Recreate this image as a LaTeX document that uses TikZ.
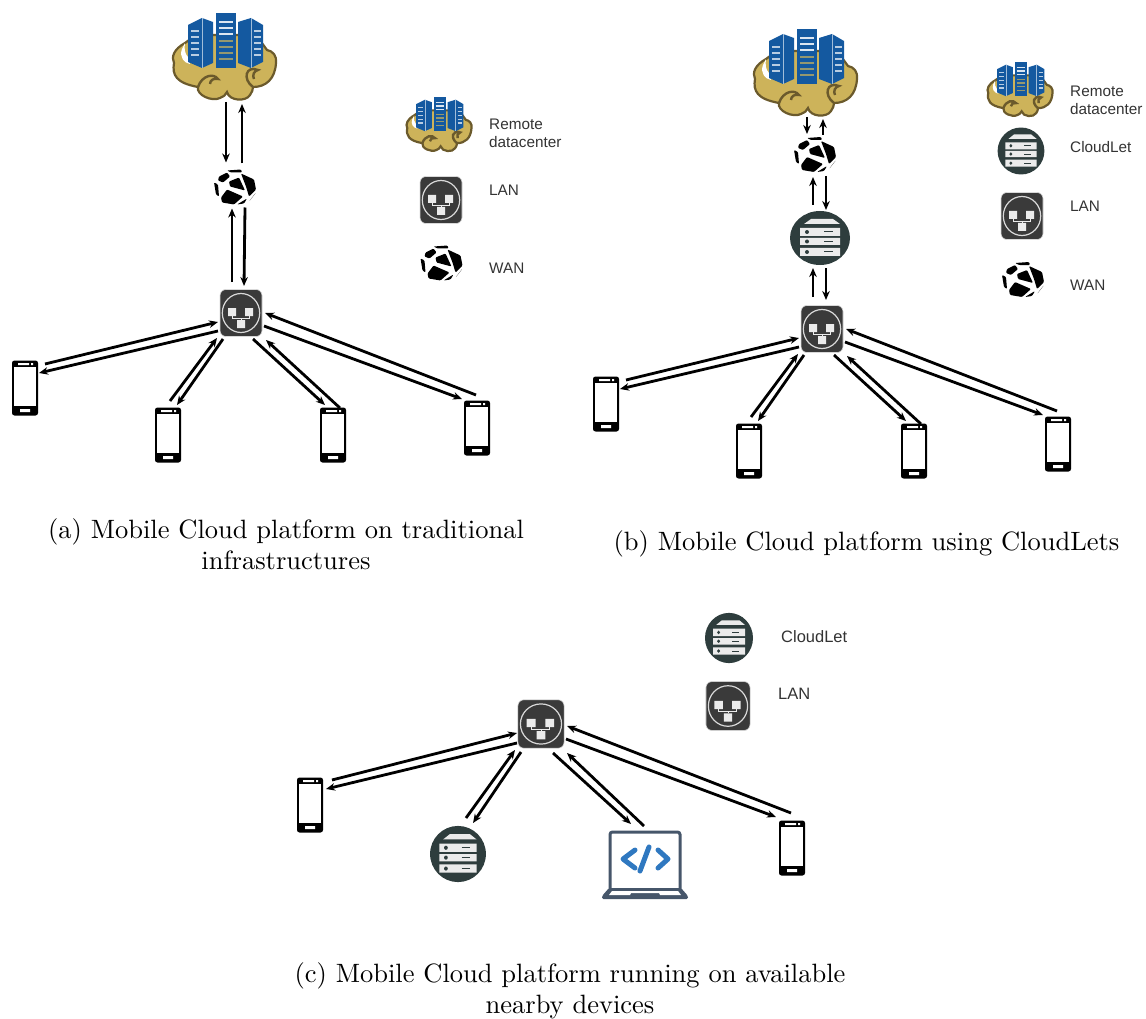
\documentclass[tikz,border=0pt]{standalone}
\usepackage{fontspec}
\newfontfamily\lab{Liberation Sans}
\newfontfamily\capf{lmroman10-regular}[Extension=.otf]
\usetikzlibrary{arrows.meta,calc}
\definecolor{gold}{HTML}{CDB35A}
\definecolor{brownl}{HTML}{6B5A2C}
\definecolor{srv}{HTML}{1459A0}
\definecolor{lanbg}{HTML}{3A3A3A}
\definecolor{letbg}{HTML}{2E3D3D}
\definecolor{slate}{HTML}{46566A}
\definecolor{codeb}{HTML}{2F78C0}
\definecolor{labc}{HTML}{333333}
\tikzset{
 conn/.style={line width=2.8pt,-{Stealth[length=9pt,width=7.5pt]},black},
 spot/.style={inner sep=0pt,outer sep=0pt,minimum size=10pt},
 lbl/.style={font=\lab\fontsize{15.3}{18}\selectfont,text=labc,anchor=west,align=left,inner sep=0pt},
 lblc/.style={lbl,font=\lab\fontsize{16.5}{18}\selectfont},
 capt/.style={font=\capf\fontsize{26.5}{31}\selectfont,align=center,inner sep=0pt},
 cloudicon/.pic={
  \fill[gold,draw=brownl,line width=2.2pt] (-41,-12) .. controls (-52,-6) and (-55,2) .. (-52,8)
   .. controls (-54,20) and (-50,28) .. (-28,32)
   .. controls (-30,40) and (-14,47) .. (-6,43)
   .. controls (-3,42) and (0,40) .. (1,37)
   .. controls (3,46) and (20,47) .. (24,40)
   .. controls (26,37) and (27,35) .. (27,32)
   .. controls (40,32) and (49,24) .. (50,8)
   .. controls (51,1) and (47,-4) .. (41,-5) -- (30,-20) -- (-30,-20) -- cycle;
  \draw[brownl,line width=2.4pt] (-28,32) .. controls (-24,20) and (-12,18) .. (-8,24) .. controls (-12,23) and (-16,25) .. (-16,29);
  \draw[brownl,line width=2.4pt] (27,32) .. controls (16,24) and (20,10) .. (32,15) .. controls (28,16) and (26,20) .. (28,24);
  \fill[white] (-44,-6) .. controls (-47,2) and (-42,8) .. (-36,9) -- (-38,2) .. controls (-41,-1) and (-42,-6) .. (-41,-12) -- cycle;
  \fill[srv] (-38,-30) -- (-24,-37) -- (-13,-33) -- (-13,8) -- (-24,13) -- (-38,7) -- cycle;
  \fill[srv] (12,-33) -- (25,-37) -- (37,-30) -- (37,7) -- (25,13) -- (12,8) -- cycle;
  \fill[srv] (-10,-42) rectangle (10,13);
  \draw[white!60!srv,line width=.7pt] (-24,-37) -- (-24,13) (25,-37) -- (25,13);
  \foreach \yy in {-24,-18,-12,-6,0}{
   \draw[white!70!srv,line width=1.1pt] (-35,\yy) -- (-27,\yy);
   \draw[white!70!srv,line width=1.1pt] (28,\yy) -- (35,\yy);}
  \foreach \yy in {-33,-27,-21}{\draw[white!85!srv,line width=1.3pt] (-7,\yy) -- (7,\yy);}
  \foreach \yy in {-14,-8,-2,4}{\draw[gold!70!srv,line width=1.3pt] (-7,\yy) -- (7,\yy);}
 },
 wanicon/.pic={
  \fill[black,rounded corners=1]
   (-8,-17) -- (6,-18) -- (7,-15) -- (-4,-15) -- cycle
   (-16,-11) -- (-8,-15) -- (-5,-11) -- (-12,-5) -- (-17,-7) -- cycle
   (6,-14) -- (19,-8) -- (21,2) -- (14,9) -- (11,-1) -- cycle
   (-6,-6) -- (4,-10) -- (10,3) -- (-5,-1) -- cycle
   (-21,-5) -- (-17,-3) -- (-16,9) -- (-19,7) -- cycle
   (-8,2) -- (8,9) -- (-1,17) -- (-13,15) -- (-14,10) -- cycle
   (2,17) -- (12,11) -- (9,16) -- cycle
   (14,14) -- (21,5) -- (18,9) -- cycle;
 },
 lanicon/.pic={
  \fill[lanbg,draw=black!15,line width=.6pt,rounded corners=6] (-21,-23.5) rectangle (21,23.5);
  \draw[white!85!black,line width=1.2pt] (0,0) ellipse (18.7 and 19.5);
  \fill[white!92!black] (-13,-5) rectangle (-5,3) (4,-5) rectangle (12,3) (-4,7) rectangle (4,15);
  \draw[white!92!black,line width=.8pt] (-9,3) -- (-9,5) -- (8,5) -- (8,3) (0,5) -- (0,7);
 },
 leticon/.pic={
  \fill[letbg] (0,0) ellipse (30 and 27);
  \fill[white!92!black] (-16,-14) -- (-9,-19) -- (13,-19) -- (20,-14) -- cycle;
  \fill[white!92!black] (-20,-10) rectangle (20,-2) (-20,0) rectangle (20,7) (-20,10) rectangle (20,18);
  \foreach \yy in {-6,3.5,14}{
   \fill[letbg] (-13,\yy) circle (2);
   \draw[letbg,line width=1pt] (4,\yy) -- (13,\yy);}
 },
 phoneicon/.pic={
  \fill[black,rounded corners=2.5] (-13,-27.5) rectangle (13,27.5);
  \fill[white] (-11,-21) rectangle (11,17.5);
  \fill[white] (-7,-25) rectangle (4,-23) (6,-25) rectangle (8,-23) (-5,21) rectangle (5,24);
 },
 laptopicon/.pic={
  \draw[slate,line width=3pt,rounded corners=2.5] (-35,25) -- (-35,-33) -- (35,-33) -- (35,25);
  \fill[slate,rounded corners=1.5] (-36,23) -- (36,23) -- (43,31) -- (43,34) -- (-43,34) -- (-43,31) -- cycle;
  \fill[white] (-33,26) -- (33,26) -- (36,30) -- (15,30) -- (14,28) -- (-14,28) -- (-15,30) -- (-36,30) -- cycle;
  \draw[codeb,line width=5pt,line cap=round,line join=round] (-10,-15) -- (-22,-6) -- (-10,3) (13,-15) -- (23,-6) -- (13,3) (4,-18) -- (-5,6);
 },
}
\newcommand{\link}[4]{\draw[conn] ([shift={(#2)}]#1.center) -- ([shift={(#4)}]#3.center);}
\newcommand{\fan}[5]{%
 \link{#2}{20,-24}{#1}{-23,9}
 \link{#1}{-23,18}{#2}{14,-15}
 \link{#3}{2,-34}{#1}{-24,25}
 \link{#1}{-18,26}{#3}{9,-30}
 \link{#1}{12,26}{#4}{-8,-30}
 \link{#4}{7,-27}{#1}{25,27}
 \link{#5}{-1,-33}{#1}{24,0}
 \link{#1}{23,13}{#5}{-15,-29}
}
\newcommand{\icon}[5][]{% options, kind, name, x, y
 \node[spot] (#3) at (#4,#5) {};
 \pic[#1] at (#3.center) {#2icon};
}
\begin{document}
\begin{tikzpicture}[x=1pt,y=-1pt]
\useasboundingbox (0,0) rectangle (1146,1019);
% panel a
\icon{cloud}{ca}{226}{55}
\icon{wan}{wa}{235}{187.5}
\icon{lan}{la}{241}{313}
\icon{phone}{pa1}{25}{388}
\icon{phone}{pa2}{168}{435}
\icon{phone}{pa3}{333}{435}
\icon{phone}{pa4}{477}{428}
\link{ca}{0,47}{wa}{-9,-25}
\link{wa}{7,-24}{ca}{16,49}
\link{la}{-9,-31}{wa}{-3,21}
\link{wa}{10,20}{la}{3,-27}
\fan{la}{pa1}{pa2}{pa3}{pa4}
\icon[scale=.63]{cloud}{lca}{440}{123}
\icon{lan}{lla}{441}{200}
\icon{wan}{lwa}{441.5}{263.5}
\node[lbl] (ta1) at (489,133) {Remote\\datacenter};
\node[lbl] (ta2) at (489,190) {LAN};
\node[lbl] (ta3) at (489,268) {WAN};
% panel b
\icon{cloud}{cb}{807}{71}
\icon{wan}{wb}{815}{155}
\icon{let}{cl}{820}{238}
\icon{lan}{lb}{822}{329}
\icon{phone}{pb1}{606}{404}
\icon{phone}{pb2}{749}{451}
\icon{phone}{pb3}{914}{451}
\icon{phone}{pb4}{1058}{444}
\link{cb}{0,46}{wb}{-8,-21}
\link{wb}{8,-20}{cb}{16,48}
\link{cl}{-7,-33}{wb}{-2,22}
\link{wb}{11,21}{cl}{6,-28}
\link{lb}{-9,-32}{cl}{-7,30}
\link{cl}{6,30}{lb}{4,-29}
\fan{lb}{pb1}{pb2}{pb3}{pb4}
\icon[scale=.63]{cloud}{lcb}{1021}{88}
\icon[xscale=.78,yscale=.87]{let}{lcl}{1021}{151}
\icon{lan}{llb}{1022}{216}
\icon{wan}{lwb}{1023}{280}
\node[lbl] (tb1) at (1070,100) {Remote\\datacenter};
\node[lbl] (tb2) at (1070,147) {CloudLet};
\node[lbl] (tb3) at (1070,206) {LAN};
\node[lbl] (tb4) at (1070,285) {WAN};
% panel c
\icon[xscale=1.1,yscale=1.03]{lan}{lc}{541}{724}
\icon{phone}{pc1}{310}{805}
\icon[xscale=.93,yscale=1.04]{let}{clc}{458}{854}
\icon{laptop}{lap}{645}{865}
\icon{phone}{pc4}{792}{848}
\link{pc1}{22,-25}{lc}{-24,9}
\link{lc}{-24,19}{pc1}{16,-16}
\link{clc}{8,-36}{lc}{-26,26}
\link{lc}{-20,28}{clc}{15,-31}
\link{lc}{12,29}{lap}{-14,-41}
\link{lap}{-1,-39}{lc}{26,29}
\link{pc4}{-1,-35}{lc}{26,2}
\link{lc}{25,15}{pc4}{-16,-31}
\icon[xscale=.8,yscale=.93]{let}{lcc}{729}{638}
\icon[xscale=1.05,yscale=1.04]{lan}{llc}{728}{706}
\node[lblc] (tc1) at (781,637) {CloudLet};
\node[lblc] (tc2) at (778,694) {LAN};
% captions
\node[capt] (c1) at (286,544) {(a) Mobile Cloud platform on traditional\\infrastructures};
\node[capt] (c2) at (866.5,544) {(b) Mobile Cloud platform using CloudLets};
\node[capt] (c3) at (570,991) {(c) Mobile Cloud platform running on available\\nearby devices};
\end{tikzpicture}
\end{document}
